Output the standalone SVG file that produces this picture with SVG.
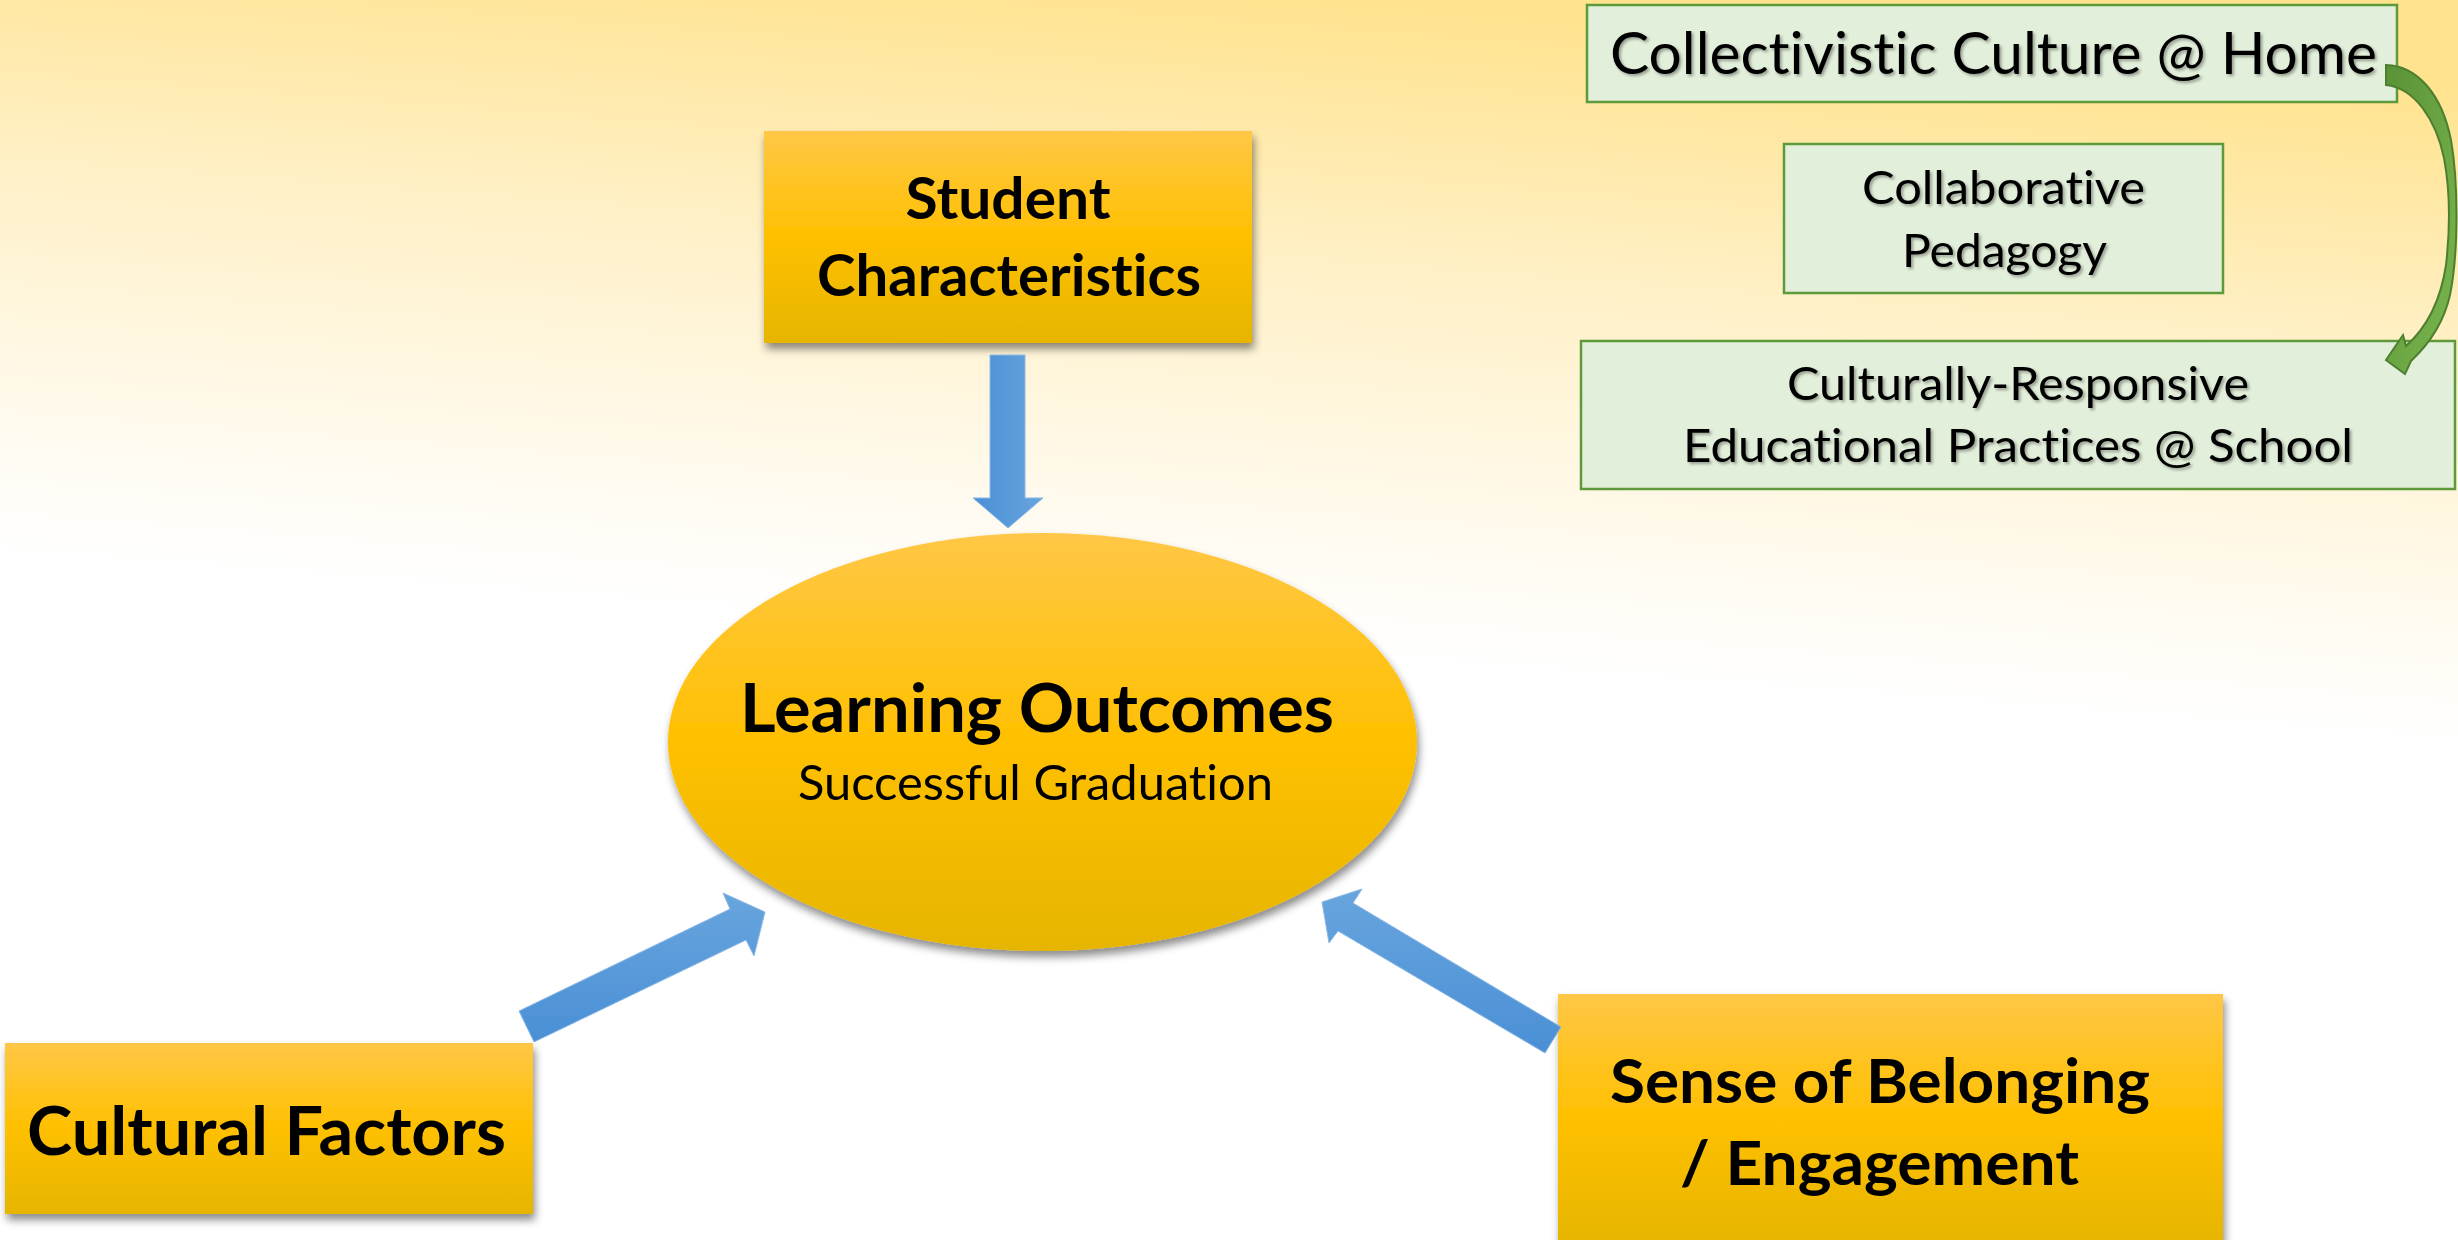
<svg xmlns="http://www.w3.org/2000/svg" width="2458" height="1240" viewBox="0 0 2458 1240">
  <defs>
    <linearGradient id="bg" gradientUnits="userSpaceOnUse" x1="1300" y1="0" x2="1250" y2="650">
      <stop offset="0" stop-color="#FFE38F"/>
      <stop offset="0.4" stop-color="#FFF0C6"/>
      <stop offset="0.75" stop-color="#FFF9EA"/>
      <stop offset="1" stop-color="#FFFFFF"/>
    </linearGradient>
    <linearGradient id="gold" x1="0" y1="0" x2="0" y2="1">
      <stop offset="0" stop-color="#FFC746"/>
      <stop offset="0.5" stop-color="#FFC000"/>
      <stop offset="1" stop-color="#E6B500"/>
    </linearGradient>
    <linearGradient id="blueV" x1="0" y1="0" x2="1" y2="0">
      <stop offset="0" stop-color="#4A8FD5"/>
      <stop offset="1" stop-color="#68A5DE"/>
    </linearGradient>
    <linearGradient id="blueD" x1="0" y1="0" x2="0" y2="1">
      <stop offset="0" stop-color="#68A5DE"/>
      <stop offset="1" stop-color="#4A8FD5"/>
    </linearGradient>
    <linearGradient id="greenArr" x1="0" y1="0" x2="1" y2="1">
      <stop offset="0" stop-color="#5A9237"/>
      <stop offset="1" stop-color="#7AB74E"/>
    </linearGradient>
    <filter id="shadow" x="-10%" y="-10%" width="125%" height="130%">
      <feDropShadow dx="2" dy="6" stdDeviation="4" flood-color="#000" flood-opacity="0.45"/>
    </filter>
    <filter id="tshadow" x="-5%" y="-20%" width="110%" height="150%">
      <feDropShadow dx="2" dy="2" stdDeviation="1.5" flood-color="#000" flood-opacity="0.35"/>
    </filter>
  </defs>
  <style>
    text { font-variant-ligatures: none; font-feature-settings: "liga" 0, "dlig" 0; }
    .gold { fill: url(#gold); filter: url(#shadow); }
    .green { fill: #E2EFDA; stroke: #5E9A3A; stroke-width: 2.5; }
    .bt { font-family: Lato, "Open Sans", "Liberation Sans", sans-serif; font-weight: bold; fill: #000; text-anchor: middle; }
    .rt { font-family: Lato, "Open Sans", "Liberation Sans", sans-serif; font-weight: normal; fill: #000; text-anchor: middle; }
    .gt { font-family: Lato, "Open Sans", "Liberation Sans", sans-serif; font-weight: normal; fill: #000; text-anchor: middle; filter: url(#tshadow); }
    .arrow { stroke: #8DB8E6; stroke-width: 1; }
  </style>

  <rect x="0" y="0" width="2458" height="1240" fill="url(#bg)"/>

  <g id="student">
    <rect class="gold" x="764" y="131" width="488" height="212"/>
    <text class="bt" x="1008" y="219" font-size="57" textLength="205" lengthAdjust="spacingAndGlyphs">Student</text>
    <text class="bt" x="1009" y="296" font-size="57" textLength="384" lengthAdjust="spacingAndGlyphs">Characteristics</text>
  </g>

  <g id="outcomes">
    <ellipse class="gold" cx="1042.5" cy="742" rx="374.5" ry="209"/>
    <text class="bt" x="1037" y="732" font-size="67" textLength="594" lengthAdjust="spacingAndGlyphs">Learning Outcomes</text>
    <text class="rt" x="1035.5" y="800" font-size="48" textLength="475" lengthAdjust="spacingAndGlyphs">Successful Graduation</text>
  </g>

  <g id="cultural">
    <rect class="gold" x="5" y="1043" width="528" height="171"/>
    <text class="bt" x="266.5" y="1155" font-size="66" textLength="479" lengthAdjust="spacingAndGlyphs">Cultural Factors</text>
  </g>

  <g id="belonging">
    <rect class="gold" x="1558" y="994" width="665" height="250"/>
    <text class="bt" x="1880" y="1103" font-size="62" textLength="540" lengthAdjust="spacingAndGlyphs">Sense of Belonging</text>
    <text class="bt" x="1879.5" y="1185" font-size="62" textLength="399" lengthAdjust="spacingAndGlyphs">/ Engagement</text>
  </g>

  <g id="home">
    <rect class="green" x="1587" y="5" width="810" height="97"/>
    <text class="gt" x="1993.5" y="74" font-size="58" textLength="767" lengthAdjust="spacingAndGlyphs">Collectivistic Culture @ Home</text>
  </g>

  <g id="pedagogy">
    <rect class="green" x="1784" y="144" width="439" height="149"/>
    <text class="gt" x="2003.5" y="204" font-size="47" textLength="283" lengthAdjust="spacingAndGlyphs">Collaborative</text>
    <text class="gt" x="2004.5" y="267" font-size="47" textLength="205" lengthAdjust="spacingAndGlyphs">Pedagogy</text>
  </g>

  <g id="school">
    <rect class="green" x="1581" y="341" width="874" height="148"/>
    <text class="gt" x="2018" y="400" font-size="47" textLength="462" lengthAdjust="spacingAndGlyphs">Culturally-Responsive</text>
    <text class="gt" x="2018" y="462" font-size="47" textLength="670" lengthAdjust="spacingAndGlyphs">Educational Practices @ School</text>
  </g>

  <g id="connectors">
    <path class="arrow" fill="url(#blueV)" d="M990,355 L1025,355 L1025,498 L1043,498 L1008,528 L973,498 L990,498 Z"/>
    <path class="arrow" fill="url(#blueD)" d="M519,1011 L730,909 L723,893 L765,912 L754,956 L746,940 L534,1042 Z"/>
    <path class="arrow" fill="url(#blueD)" d="M1561,1027 L1353,903 L1362,889 L1322,902 L1329,943 L1338,931 L1545,1053 Z"/>
    <path fill="url(#greenArr)" stroke="#4E7F30" stroke-width="2" stroke-linejoin="miter" d="M2386,65 C2418,66 2442,95 2451,140 C2458,180 2459,250 2450,295 C2444,322 2428,345 2411,361 L2405,374 L2386,360 L2403,335 L2406,346 C2424,330 2440,305 2446,265 C2450,230 2450,190 2444,158 C2436,120 2415,88 2386,85 Z"/>
  </g>
</svg>
